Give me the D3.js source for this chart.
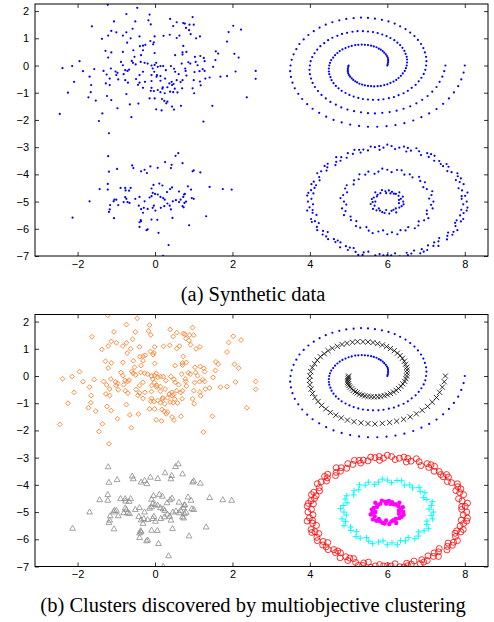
<!DOCTYPE html>
<html>
<head>
<meta charset="utf-8">
<script src="https://cdn.jsdelivr.net/npm/d3@7"></script>
<style>
  body { margin: 0; background: #fff; }
  svg { display: block; }
  .caption { font-family: 'Liberation Serif', 'Times New Roman', Times, serif; font-size: 20.5px; }
  .tick text { font-family: 'Liberation Sans', Arial, Helvetica, sans-serif; font-size: 11px; }
</style>
</head>
<body>
<svg width="494" height="622"></svg>
<script>
// upper-left gaussian blob (orange diamonds in panel b)
const gaussTop = [
  [-1.22,2.23],[-0.46,2.12],[-0.74,1.89],[-0.14,1.87],[-0.17,1.66],[-1.06,1.62],[-0.51,1.62],[0.39,1.71],
  [0.97,1.78],[0.56,1.59],[-0.11,1.51],[0.73,1.56],[0.77,1.54],[0.89,1.50],[1.00,1.50],[-1.63,1.44],
  [-0.58,1.35],[0.47,1.45],[0.80,1.38],[0.88,1.30],[-1.13,1.27],[-1.00,1.22],[-0.74,1.22],[2.02,1.46],
  [2.22,1.32],[1.90,1.23],
  [-1.21,1.10],[-0.83,1.10],[-0.40,1.07],[-0.01,1.07],[0.22,1.09],[0.38,1.13],[0.56,1.01],[0.63,1.10],
  [0.92,1.15],[1.16,1.07],[1.06,1.00],[-1.37,0.98],[-0.63,1.00],[-0.72,0.84],[-0.12,0.90],[-0.03,0.85],
  [-0.05,0.78],[-0.25,0.76],[-0.31,0.73],[-0.39,0.71],[0.73,0.72],[1.86,0.88],
  [-1.28,0.54],[-1.13,0.48],[-0.83,0.50],[-0.56,0.56],[-0.31,0.56],[-0.01,0.46],[0.71,0.48],[0.71,0.40],
  [0.81,0.50],[1.03,0.32],[1.17,0.35],[1.26,0.28],[1.57,0.52],[1.63,0.44],[2.05,0.43],[2.16,0.29],
  [0.52,0.38],[-0.36,0.38],[-0.53,0.32],[-1.21,0.29],[-0.60,0.17],[-0.88,0.13],[-1.95,0.16],[1.28,0.16],
  [1.56,0.20],[1.05,0.13],
  [-2.39,-0.10],[-2.14,-0.02],[-1.86,-0.21],[-1.57,-0.13],[-1.33,-0.20],[-1.14,-0.11],[-1.02,-0.22],[-0.97,-0.27],
  [-0.83,0.01],[-0.77,-0.17],[-0.71,-0.20],[-0.67,-0.15],[-0.57,0.10],[-0.50,0.04],[-0.37,0.13],[-0.27,0.10],
  [-0.19,0.07],[-0.09,0.00],[-0.01,0.02],[0.03,0.10],[-0.06,-0.11],[0.07,-0.05],[0.14,-0.02],[0.21,-0.02],
  [0.28,-0.17],[0.41,-0.02],[0.49,-0.12],[0.52,-0.23],[0.69,0.07],[0.78,-0.11],[0.86,0.12],[0.91,0.07],
  [1.10,0.01],[1.23,-0.13],[1.15,-0.21],[1.28,-0.20],[1.50,-0.05],[2.08,-0.22],[0.61,-0.32],[0.79,-0.20],
  [1.02,-0.24],[-0.02,-0.23],[0.05,-0.35],[0.14,-0.39],[-0.09,-0.35],[-0.31,-0.23],[-0.40,-0.35],
  [-1.69,-0.41],[-1.25,-0.33],[-1.17,-0.48],[-1.00,-0.35],[-0.95,-0.51],[-0.81,-0.32],[-0.77,-0.54],[-0.70,-0.63],
  [-0.49,-0.50],[-0.40,-0.63],[-0.26,-0.60],[-0.09,-0.57],[0.04,-0.41],[0.14,-0.56],[0.26,-0.48],[0.37,-0.66],
  [0.43,-0.60],[0.44,-0.72],[0.48,-0.68],[0.56,-0.54],[0.66,-0.61],[0.71,-0.54],[0.81,-0.37],[1.00,-0.54],
  [1.16,-0.59],[1.30,-0.48],[1.41,-0.44],[1.69,-0.41],[1.86,-0.39],[-2.09,-0.60],[-1.65,-0.72],[-1.27,-0.66],
  [-1.17,-0.72],[-0.44,-0.71],[-0.31,-0.82],[-0.09,-0.82],[-0.03,-0.94],[0.19,-0.85],[0.20,-0.80],[0.32,-0.80],
  [0.51,-0.85],[0.70,-0.84],[1.18,-0.73],
  [-2.25,-1.00],[-1.66,-0.98],[-1.72,-1.17],[-0.11,-0.93],[0.07,-0.90],[0.14,-0.98],[0.39,-0.96],[0.47,-0.98],
  [0.58,-0.99],[0.97,-0.84],[1.01,-1.02],[-0.74,-1.05],[0.25,-1.02],
  [-1.53,-1.29],[-1.13,-1.27],[-1.24,-1.12],[-0.14,-1.21],[-0.01,-1.21],[0.18,-1.23],[0.24,-1.30],[0.32,-1.33],
  [0.29,-1.39],[-0.43,-1.40],[-0.65,-1.43],[0.44,-1.51],[0.67,-1.48],[1.48,-1.48],[-0.97,-1.57],[0.03,-1.61],
  [0.17,-1.65],[0.49,-1.62],[2.37,-1.17],
  [-2.46,-1.78],[-1.36,-1.76],[-1.45,-2.04],[-0.61,-1.90],[1.25,-2.06],[-1.19,-2.49],
  [2.60,-0.20],[2.60,-0.49]
];

// lower-left gaussian blob (gray triangles)
const gaussBottom = [
  [-1.21,-3.33],[-1.19,-3.90],[-0.98,-3.80],[-0.59,-3.67],[-0.56,-3.77],[-0.12,-3.71],[0.07,-3.76],[0.26,-3.55],
  [0.43,-3.65],[0.41,-3.77],[0.53,-3.32],[0.60,-3.22],[0.71,-3.59],[0.97,-3.89],[1.00,-3.85],[1.17,-3.93],
  [-0.36,-3.89],[-0.27,-3.83],[-0.21,-3.95],
  [-1.43,-4.54],[-1.22,-4.35],[-1.22,-4.56],[-0.89,-4.50],[-0.77,-4.50],[-0.76,-4.59],[-0.67,-4.60],[-0.63,-4.50],
  [-0.09,-4.52],[-0.04,-4.39],[0.11,-4.34],[0.19,-4.41],[0.31,-4.65],[0.39,-4.54],[0.44,-4.48],[0.62,-4.63],
  [0.75,-4.74],[0.77,-4.72],[0.85,-4.44],[0.93,-4.56],[1.41,-4.46],[1.75,-4.54],[1.98,-4.56],
  [-1.69,-4.99],[-1.07,-4.99],[-1.05,-4.93],[-1.00,-4.93],[-0.77,-4.84],[-0.74,-4.90],[-0.71,-5.02],[-0.66,-5.05],
  [-0.51,-4.90],[-0.40,-4.83],[-0.27,-4.99],[-0.14,-4.85],[-0.09,-4.80],[-0.06,-4.68],[0.00,-4.72],[0.07,-4.74],
  [0.14,-4.83],[0.21,-4.87],[0.25,-4.93],[0.32,-5.07],[0.38,-5.15],[0.46,-4.99],[0.54,-4.95],[0.62,-5.02],
  [0.66,-4.93],[0.73,-4.83],[0.76,-5.05],[0.80,-5.00],[0.95,-4.87],[1.00,-4.90],
  [-0.81,-5.02],[-0.95,-5.13],[-1.16,-5.13],[-1.17,-5.29],[-1.19,-5.38],[-0.42,-5.15],[-0.36,-5.28],[-0.29,-5.23],
  [-0.19,-5.27],[-0.06,-5.23],[-0.03,-5.15],[0.01,-5.33],[0.15,-5.23],[0.24,-5.17],[0.41,-5.29],[0.71,-5.17],
  [0.74,-5.21],
  [-2.13,-5.59],[-1.06,-5.61],[-0.31,-5.41],[-0.37,-5.68],[-0.40,-5.76],[-0.36,-5.72],[-0.09,-5.66],[0.06,-5.67],
  [0.45,-5.60],[1.32,-5.54],[0.88,-5.87],[-0.40,-5.93],[-0.22,-6.05],[-0.19,-6.02],[0.09,-6.15],[0.35,-6.60],
  [0.21,-6.99]
];

// spiral arm starting at (6,0) (blue dots)
const spiralA = [
  [6.00,0.00],[6.01,0.05],[6.02,0.11],[6.02,0.17],[6.02,0.23],[6.01,0.29],[5.99,0.35],[5.96,0.41],
  [5.92,0.47],[5.88,0.53],[5.83,0.58],[5.78,0.62],[5.72,0.67],[5.65,0.70],[5.58,0.73],[5.50,0.75],
  [5.42,0.76],[5.34,0.77],[5.25,0.76],[5.17,0.75],[5.08,0.72],[5.00,0.69],[4.92,0.64],[4.84,0.59],
  [4.77,0.53],[4.71,0.46],[4.65,0.38],[4.60,0.29],[4.55,0.20],[4.52,0.10],[4.50,0.00],[4.49,-0.11],
  [4.49,-0.22],[4.50,-0.32],[4.53,-0.43],[4.56,-0.54],[4.61,-0.65],[4.67,-0.75],[4.74,-0.84],[4.82,-0.93],
  [4.92,-1.01],[5.02,-1.08],[5.13,-1.14],[5.25,-1.19],[5.37,-1.23],[5.50,-1.25],[5.63,-1.26],[5.77,-1.26],
  [5.90,-1.24],[6.04,-1.20],[6.17,-1.16],[6.29,-1.09],[6.42,-1.02],[6.53,-0.93],[6.63,-0.82],[6.73,-0.71],
  [6.81,-0.58],[6.88,-0.45],[6.94,-0.31],[6.98,-0.16],[7.00,0.00],[7.01,0.16],[7.00,0.32],[6.97,0.48],
  [6.93,0.64],[6.87,0.79],[6.79,0.94],[6.70,1.08],[6.59,1.21],[6.47,1.34],[6.33,1.44],[6.19,1.54],
  [6.03,1.62],[5.86,1.68],[5.68,1.72],[5.50,1.75],[5.32,1.76],[5.13,1.74],[4.94,1.71],[4.76,1.66],
  [4.58,1.59],[4.41,1.50],[4.25,1.39],[4.10,1.26],[3.96,1.12],[3.84,0.96],[3.73,0.79],[3.65,0.60],
  [3.58,0.41],[3.53,0.21],[3.50,0.00],[3.49,-0.21],[3.51,-0.42],[3.55,-0.63],[3.61,-0.84],[3.70,-1.04],
  [3.80,-1.23],[3.93,-1.42],[4.07,-1.59],[4.24,-1.74],[4.42,-1.88],[4.61,-2.00],[4.82,-2.09],[5.04,-2.17],
  [5.27,-2.22],[5.50,-2.25],[5.74,-2.25],[5.98,-2.23],[6.21,-2.19],[6.44,-2.12],[6.67,-2.02],[6.88,-1.90],
  [7.08,-1.76],[7.27,-1.60],[7.44,-1.41],[7.59,-1.21],[7.72,-0.99],[7.83,-0.76],[7.91,-0.51],[7.97,-0.26],
  [8.00,0.00]
];

// spiral arm starting at (5,0) (black crosses)
const spiralB = [
  [5.00,0.00],[4.99,-0.05],[4.98,-0.11],[4.98,-0.17],[4.98,-0.23],[4.99,-0.29],[5.01,-0.35],[5.04,-0.41],
  [5.08,-0.47],[5.12,-0.53],[5.17,-0.58],[5.22,-0.62],[5.28,-0.67],[5.35,-0.70],[5.42,-0.73],[5.50,-0.75],
  [5.58,-0.76],[5.66,-0.77],[5.75,-0.76],[5.83,-0.75],[5.92,-0.72],[6.00,-0.69],[6.08,-0.64],[6.16,-0.59],
  [6.23,-0.53],[6.29,-0.46],[6.35,-0.38],[6.40,-0.29],[6.45,-0.20],[6.48,-0.10],[6.50,0.00],[6.51,0.11],
  [6.51,0.22],[6.50,0.32],[6.47,0.43],[6.44,0.54],[6.39,0.65],[6.33,0.75],[6.26,0.84],[6.18,0.93],
  [6.08,1.01],[5.98,1.08],[5.87,1.14],[5.75,1.19],[5.63,1.23],[5.50,1.25],[5.37,1.26],[5.23,1.26],
  [5.10,1.24],[4.96,1.20],[4.83,1.16],[4.71,1.09],[4.58,1.02],[4.47,0.93],[4.37,0.82],[4.27,0.71],
  [4.19,0.58],[4.12,0.45],[4.06,0.31],[4.02,0.16],[4.00,0.00],[3.99,-0.16],[4.00,-0.32],[4.03,-0.48],
  [4.07,-0.64],[4.13,-0.79],[4.21,-0.94],[4.30,-1.08],[4.41,-1.21],[4.53,-1.34],[4.67,-1.44],[4.81,-1.54],
  [4.97,-1.62],[5.14,-1.68],[5.32,-1.72],[5.50,-1.75],[5.68,-1.76],[5.87,-1.74],[6.06,-1.71],[6.24,-1.66],
  [6.42,-1.59],[6.59,-1.50],[6.75,-1.39],[6.90,-1.26],[7.04,-1.12],[7.16,-0.96],[7.27,-0.79],[7.35,-0.60],
  [7.42,-0.41],[7.47,-0.21],[7.50,0.00]
];

// outer ring (red circles)
const ringOuter = [
  [8.05,-5.00],[7.92,-4.90],[8.01,-4.79],[8.07,-4.67],[7.93,-4.59],[7.84,-4.51],[7.97,-4.36],[7.87,-4.28],
  [7.77,-4.21],[7.82,-4.07],[7.81,-3.96],[7.66,-3.92],[7.55,-3.88],[7.58,-3.72],[7.53,-3.62],[7.38,-3.62],
  [7.34,-3.51],[7.21,-3.50],[7.22,-3.32],[7.07,-3.36],[7.03,-3.22],[6.87,-3.29],[6.82,-3.15],[6.75,-3.04],
  [6.61,-3.13],[6.49,-3.16],[6.43,-2.98],[6.31,-3.02],[6.20,-3.07],[6.11,-2.96],
  [6.00,-2.91],[5.90,-3.02],[5.80,-3.10],[5.68,-3.00],[5.57,-2.98],[5.50,-3.12],[5.38,-3.09],[5.31,-3.20],
  [5.15,-3.10],[5.11,-3.25],[4.98,-3.22],[4.95,-3.39],[4.81,-3.37],[4.68,-3.37],[4.68,-3.54],[4.66,-3.66],
  [4.46,-3.61],[4.45,-3.74],[4.43,-3.86],[4.29,-3.89],[4.19,-3.96],[4.24,-4.10],[4.25,-4.22],[4.10,-4.27],
  [4.04,-4.36],[4.12,-4.50],[4.03,-4.58],[4.09,-4.70],[3.93,-4.78],[4.04,-4.90],
  [3.95,-5.00],[4.08,-5.10],[3.99,-5.21],[3.93,-5.33],[4.07,-5.41],[4.17,-5.49],[4.03,-5.64],[4.13,-5.72],
  [4.23,-5.79],[4.18,-5.93],[4.19,-6.05],[4.34,-6.08],[4.46,-6.12],[4.42,-6.28],[4.47,-6.38],[4.62,-6.38],
  [4.66,-6.49],[4.79,-6.50],[4.78,-6.68],[4.93,-6.64],[4.98,-6.78],[5.13,-6.71],[5.18,-6.85],[5.25,-6.96],
  [5.39,-6.87],[5.51,-6.84],[5.57,-7.03],[5.69,-6.98],[5.80,-6.93],[5.90,-6.98],
  [6.00,-6.97],[6.10,-6.98],[6.20,-6.90],[6.32,-7.01],[6.43,-7.02],[6.50,-6.88],[6.62,-6.91],[6.69,-6.80],
  [6.85,-6.90],[6.89,-6.75],[7.03,-6.78],[7.05,-6.61],[7.19,-6.63],[7.32,-6.63],[7.32,-6.46],[7.34,-6.34],
  [7.54,-6.39],[7.55,-6.26],[7.57,-6.14],[7.71,-6.11],[7.81,-6.05],[7.76,-5.90],[7.75,-5.78],[7.90,-5.73],
  [7.96,-5.64],[7.88,-5.51],[7.97,-5.42],[7.91,-5.30],[8.07,-5.22],[7.96,-5.10],
  [7.92,-4.80],[7.90,-4.15],[7.44,-3.70],[7.13,-3.26],[6.53,-3.03],[5.79,-2.96],[5.27,-3.10],[4.79,-3.50],
  [4.38,-3.69],[4.16,-4.40],[3.96,-4.68],[4.07,-5.31],[4.05,-5.75],[4.33,-6.21],[4.72,-6.43],[5.03,-6.69],
  [5.36,-6.96],[6.53,-6.97],[6.94,-6.84],[7.21,-6.50],[7.68,-6.22],[7.79,-5.69],[8.05,-5.33]
];

// middle ring (cyan plus)
const ringMiddle = [
  [7.19,-5.00],[7.08,-4.89],[7.14,-4.76],[7.16,-4.62],[7.02,-4.54],[6.93,-4.47],[6.97,-4.29],[6.85,-4.24],
  [6.82,-4.09],[6.65,-4.11],[6.58,-4.00],[6.44,-4.01],[6.37,-3.85],[6.25,-3.84],[6.11,-3.92],[6.00,-3.83],
  [5.87,-3.79],[5.77,-3.90],[5.67,-3.98],[5.51,-3.90],[5.43,-4.01],[5.28,-4.00],[5.26,-4.18],[5.14,-4.22],
  [5.13,-4.37],[4.95,-4.40],[4.91,-4.52],[4.96,-4.66],[4.86,-4.76],[4.79,-4.87],[4.88,-5.00],[4.94,-5.11],
  [4.83,-5.25],[4.92,-5.35],[4.88,-5.50],[5.05,-5.55],[5.06,-5.68],[5.20,-5.72],[5.19,-5.90],[5.30,-5.96],
  [5.46,-5.94],[5.52,-6.07],[5.62,-6.16],[5.77,-6.10],[5.89,-6.06],[6.00,-6.20],[6.12,-6.13],[6.26,-6.20],
  [6.34,-6.05],[6.47,-6.06],[6.54,-5.94],[6.71,-5.98],[6.80,-5.88],[6.81,-5.73],[6.95,-5.69],[7.06,-5.61],
  [7.02,-5.46],[7.02,-5.33],[7.17,-5.25],[7.13,-5.12]
];

// inner ring (magenta)
const ringInner = [
  [6.41,-5.00],[6.30,-4.94],[6.40,-4.82],[6.29,-4.79],[6.31,-4.66],[6.17,-4.71],[6.12,-4.64],[6.04,-4.59],
  [5.97,-4.69],[5.86,-4.58],[5.82,-4.69],[5.69,-4.66],[5.73,-4.81],[5.65,-4.85],[5.60,-4.91],[5.69,-5.00],
  [5.57,-5.09],[5.67,-5.15],[5.63,-5.27],[5.78,-5.25],[5.81,-5.33],[5.87,-5.39],[5.97,-5.31],[6.05,-5.44],
  [6.11,-5.34],[6.23,-5.40],[6.22,-5.25],[6.31,-5.22],[6.37,-5.17],[6.30,-5.06],
  [6.35,-4.90],[6.22,-4.72],[5.95,-4.62],[5.75,-4.75],[5.62,-5.02],[5.72,-5.32],[5.93,-5.42],[6.16,-5.30],
  [6.42,-5.10],[6.08,-4.70]
];

const xTicks = [-2, 0, 2, 4, 6, 8];
const yTicks = [2, 1, 0, -1, -2, -3, -4, -5, -6, -7];
const captions = ['(a) Synthetic data', '(b) Clusters discovered by multiobjective clustering'];

const svg = d3.select('svg');
const left = 35, right = 488, plotH = 252;

let x = d3.scaleLinear().domain([-3.1, 8.6]).range([left, right]);
let y = d3.scaleLinear().domain([-7, 2.26]).range([plotH, 0]);

// marker shapes, h = half size
function shape(type, h) {
  if (type == 'diamond') return `M0,${-h}L${h},0L0,${h}L${-h},0Z`;
  if (type == 'triangle') return `M0,${-h}L${h},${h * 0.75}L${-h},${h * 0.75}Z`;
  if (type == 'plus') return `M${-h},0H${h}M0,${-h}V${h}`;
  if (type == 'cross') return `M${-h},${-h}L${h},${h}M${-h},${h}L${h},${-h}`;
  return null;
}

function drawPanel(top, layers, caption, idx) {
  let g = svg.append('g').attr('transform', 'translate(0,' + top + ')');

  g.append('clipPath').attr('id', 'clip' + idx)
    .append('rect').attr('x', left).attr('y', 0).attr('width', right - left).attr('height', plotH);

  let marks = g.append('g').attr('clip-path', 'url(#clip' + idx + ')');

  layers.forEach(function(l) {
    let sel = marks.append('g').selectAll('.m').data(l.data).enter();
    if (l.type == 'dot' || l.type == 'circle') {
      sel.append('circle')
        .attr('cx', d => x(d[0]))
        .attr('cy', d => y(d[1]))
        .attr('r', l.size)
        .attr('fill', l.type == 'dot' ? l.color : 'none')
        .attr('stroke', l.type == 'dot' ? 'none' : l.color)
        .attr('stroke-width', l.sw || 0.8);
    } else {
      sel.append('path')
        .attr('d', shape(l.type, l.size))
        .attr('transform', d => 'translate(' + x(d[0]) + ',' + y(d[1]) + ')')
        .attr('fill', 'none')
        .attr('stroke', l.color)
        .attr('stroke-width', l.sw || 0.8);
    }
  });

  // axes with inward ticks on all four sides
  let axB = g.append('g').attr('transform', 'translate(0,' + plotH + ')')
    .call(d3.axisBottom(x).tickValues(xTicks).tickSizeInner(-4).tickSizeOuter(0).tickPadding(4));
  let axT = g.append('g')
    .call(d3.axisTop(x).tickValues(xTicks).tickSizeInner(-4).tickSizeOuter(0).tickFormat(''));
  let axL = g.append('g').attr('transform', 'translate(' + left + ',0)')
    .call(d3.axisLeft(y).tickValues(yTicks).tickSizeInner(-4).tickSizeOuter(0).tickPadding(6));
  let axR = g.append('g').attr('transform', 'translate(' + right + ',0)')
    .call(d3.axisRight(y).tickValues(yTicks).tickSizeInner(-4).tickSizeOuter(0).tickFormat(''));

  [axB, axT, axL, axR].forEach(function(a) {
    a.select('.domain').remove();
    a.attr('font-family', null).attr('font-size', null);
    a.selectAll('line').attr('stroke', '#000').attr('stroke-width', 0.8);
    a.selectAll('text').attr('fill', '#000');
  });

  g.append('rect')
    .attr('x', left).attr('y', 0)
    .attr('width', right - left).attr('height', plotH)
    .attr('fill', 'none').attr('stroke', '#000').attr('stroke-width', 1);

  g.append('text')
    .attr('class', 'caption')
    .attr('x', 253).attr('y', plotH + 45)
    .attr('text-anchor', 'middle')
    .attr('fill', '#000')
    .text(caption);
}

let blue = '#0000ff';
drawPanel(4, [
  {data: gaussTop, type: 'dot', color: blue, size: 1.1},
  {data: gaussBottom, type: 'dot', color: blue, size: 1.1},
  {data: spiralA, type: 'dot', color: blue, size: 1.1},
  {data: spiralB, type: 'dot', color: blue, size: 1.1},
  {data: ringOuter, type: 'dot', color: blue, size: 1.1},
  {data: ringMiddle, type: 'dot', color: blue, size: 1.1},
  {data: ringInner, type: 'dot', color: blue, size: 1.1}
], captions[0], 0);

drawPanel(314.5, [
  {data: gaussTop, type: 'diamond', color: '#ff7f2a', size: 2.4, sw: 0.9},
  {data: gaussBottom, type: 'triangle', color: '#8c8c8c', size: 2.9, sw: 0.8},
  {data: spiralA, type: 'dot', color: blue, size: 1.1},
  {data: spiralB, type: 'cross', color: '#000', size: 2.6, sw: 0.8},
  {data: ringOuter, type: 'circle', color: '#ff0000', size: 3, sw: 0.8},
  {data: ringMiddle, type: 'plus', color: '#00ffff', size: 3, sw: 1},
  {data: ringInner, type: 'dot', color: '#ff00ff', size: 2.2}
], captions[1], 1);
</script>
</body>
</html>
